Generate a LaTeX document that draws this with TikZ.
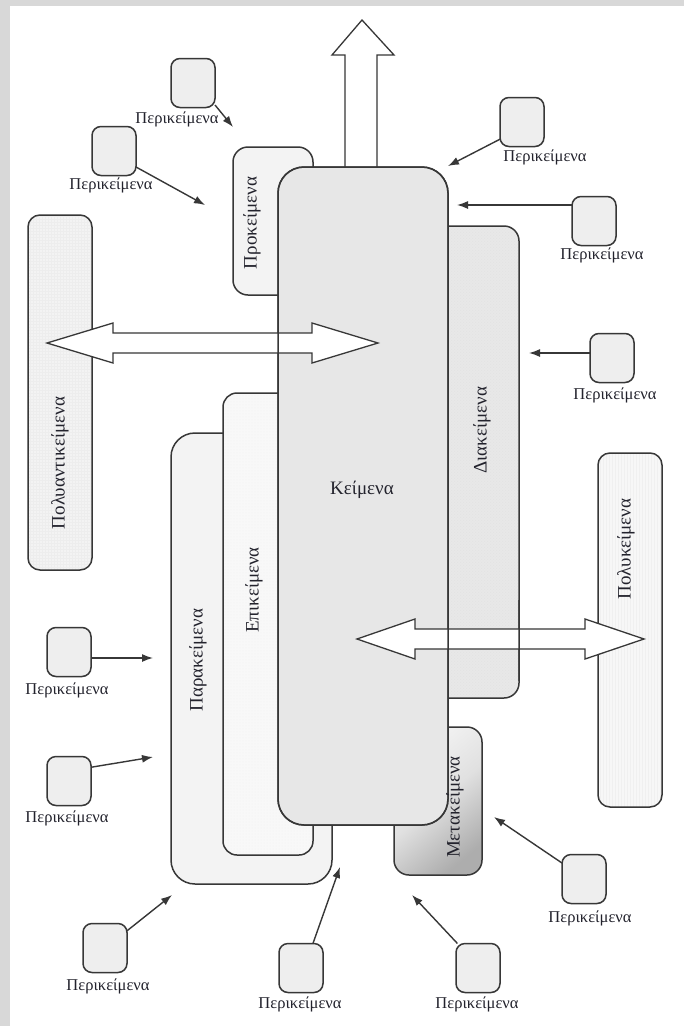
\documentclass[tikz,border=0pt]{standalone}
\usepackage{fontspec}
\setmainfont{Liberation Serif}
\usetikzlibrary{patterns,arrows.meta}
\definecolor{frame}{RGB}{216,216,216}
\definecolor{edge}{RGB}{55,55,55}
\definecolor{kfill}{RGB}{231,231,231}
\definecolor{lfill}{RGB}{243,243,243}
\definecolor{sfill}{RGB}{238,238,238}
\definecolor{dfill}{RGB}{232,232,232}
\definecolor{txt}{RGB}{35,35,45}
\tikzset{
  bigbox/.style={draw=edge, line width=1.5pt, inner sep=0pt, outer sep=0pt},
  outline/.style={draw=edge, line width=1.5pt},
  smallbox/.style={draw=edge, line width=1.5pt, fill=sfill, rounded corners=9pt,
     minimum width=44pt, minimum height=49pt, inner sep=0pt, outer sep=0pt},
  boxtext/.style={rotate=90, font=\fontsize{19}{19}\selectfont, text=txt, inner sep=0pt},
  perilabel/.style={font=\fontsize{16.5}{16.5}\selectfont, text=txt, inner sep=0pt},
  conn/.style={draw=edge, line width=1.4pt, -{Latex[length=11pt,width=8pt]}},
  fatarrow/.style={draw=edge, line width=1.3pt, fill=white, line join=miter}
}
\begin{document}
\begin{tikzpicture}[x=1pt,y=-1pt]
\useasboundingbox (0,0) rectangle (684,1026);
\fill[frame] (0,0) rectangle (684,1026);
\fill[white] (10,6) rectangle (684,1026);

% up arrow
\draw[fatarrow] (345,168) -- (345,55) -- (332,55) -- (362,20) -- (394,55) -- (377,55) -- (377,168) -- cycle;

% boxes behind Keimena
\node[bigbox, fill=lfill, rounded corners=15pt, minimum width=80pt, minimum height=148pt] (prok) at (273,221) {};
\node[bigbox, fill=lfill, rounded corners=24pt, minimum width=161pt, minimum height=451pt] (para) at (251.5,658.5) {};
\node[bigbox, preaction={fill=lfill!60!white}, pattern=dots, pattern color=black!6, rounded corners=14pt, minimum width=90pt, minimum height=462pt] (epik) at (268,624) {};
\node[bigbox, top color=black!4, bottom color=black!32, middle color=black!12, shading angle=40, rounded corners=15pt, minimum width=88pt, minimum height=148pt] (meta) at (438,801) {};
\node[bigbox, preaction={fill=dfill}, pattern=crosshatch dots, pattern color=black!11, rounded corners=15pt, minimum width=89pt, minimum height=472pt] (diak) at (474.5,462) {};

% main box
\node[bigbox, fill=kfill, rounded corners=26pt, minimum width=170pt, minimum height=658pt] (keim) at (363,496) {};

% side boxes
\node[bigbox, preaction={fill=lfill}, pattern=grid, pattern color=black!7, rounded corners=12pt, minimum width=64pt, minimum height=355pt] (polyant) at (60,392.5) {};
\node[bigbox, preaction={fill=white!97!black}, pattern=vertical lines, pattern color=black!6, rounded corners=12pt, minimum width=64pt, minimum height=354pt] (polyk) at (630,630) {};

% double arrows
\draw[fatarrow] (47,343) -- (113,323) -- (113,333) -- (312,333) -- (312,323) -- (378,343) -- (312,363) -- (312,353) -- (113,353) -- (113,363) -- cycle;
\draw[fatarrow] (357,639) -- (415,619) -- (415,629) -- (585,629) -- (585,619) -- (644,639) -- (585,659) -- (585,649) -- (415,649) -- (415,659) -- cycle;

% outlines of Keimena and Diakeimena show through the arrows
\begin{scope}
\clip (450,600) rectangle (590,680);
\draw[outline, rounded corners=15pt] (diak.south west) rectangle (diak.north east);
\end{scope}
\draw[outline, rounded corners=26pt] (keim.south west) rectangle (keim.north east);

% texts of the big boxes
\node[font=\fontsize{19}{19}\selectfont, text=txt, inner sep=0pt] (tkeim) at (362,490) {Κείμενα};
\node[boxtext] (tprok) at (252,223) {Προκείμενα};
\node[boxtext] (tpolyant) at (60,463) {Πολυαντικείμενα};
\node[boxtext] (tepik) at (254,590) {Επικείμενα};
\node[boxtext] (tpara) at (198,660) {Παρακείμενα};
\node[boxtext] (tdiak) at (482,430) {Διακείμενα};
\node[boxtext] (tpolyk) at (626,549) {Πολυκείμενα};
\node[boxtext] (tmeta) at (455,807) {Μετακείμενα};

% small boxes
\node[smallbox] (b1) at (193,83) {};
\node[smallbox] (b2) at (114,151) {};
\node[smallbox] (b3) at (522,122) {};
\node[smallbox] (b4) at (594,221) {};
\node[smallbox] (b5) at (612,358) {};
\node[smallbox] (b6) at (69,652) {};
\node[smallbox] (b7) at (69,781) {};
\node[smallbox] (b8) at (105,948) {};
\node[smallbox] (b9) at (301,968) {};
\node[smallbox] (b10) at (478,968) {};
\node[smallbox] (b11) at (584,879) {};

% labels
\node[perilabel] (l1) at (177,119) {Περικείμενα};
\node[perilabel] (l2) at (111,185) {Περικείμενα};
\node[perilabel] (l3) at (545,157) {Περικείμενα};
\node[perilabel] (l4) at (602,255) {Περικείμενα};
\node[perilabel] (l5) at (615,395) {Περικείμενα};
\node[perilabel] (l6) at (67,690) {Περικείμενα};
\node[perilabel] (l7) at (67,818) {Περικείμενα};
\node[perilabel] (l8) at (108,986) {Περικείμενα};
\node[perilabel] (l9) at (300,1004) {Περικείμενα};
\node[perilabel] (l10) at (477,1004) {Περικείμενα};
\node[perilabel] (l11) at (590,918) {Περικείμενα};

% arrow tips
\coordinate (t1) at (233,127);
\coordinate (t2) at (205,205);
\coordinate (t3) at (448,166);
\coordinate (t4) at (457,205);
\coordinate (t5) at (529,353);
\coordinate (t6) at (153,658);
\coordinate (t7) at (153,757);
\coordinate (t8) at (172,895);
\coordinate (t9) at (340,867);
\coordinate (t10) at (412,895);
\coordinate (t11) at (494,817);

\draw[conn] (b1.-45) -- (t1);
\draw[conn] (b2.-36) -- (t2);
\draw[conn] (b3.218) -- (t3);
\draw[conn] (b4.west |- t4) -- (t4);
\draw[conn] (b5.west |- t5) -- (t5);
\draw[conn] (b6.east |- t6) -- (t6);
\draw[conn] (b7.32) -- (t7);
\draw[conn] (b8.38) -- (t8);
\draw[conn] (b9.64) -- (t9);
\draw[conn] (b10.130) -- (t10);
\draw[conn] (b11.144) -- (t11);
\end{tikzpicture}
\end{document}
